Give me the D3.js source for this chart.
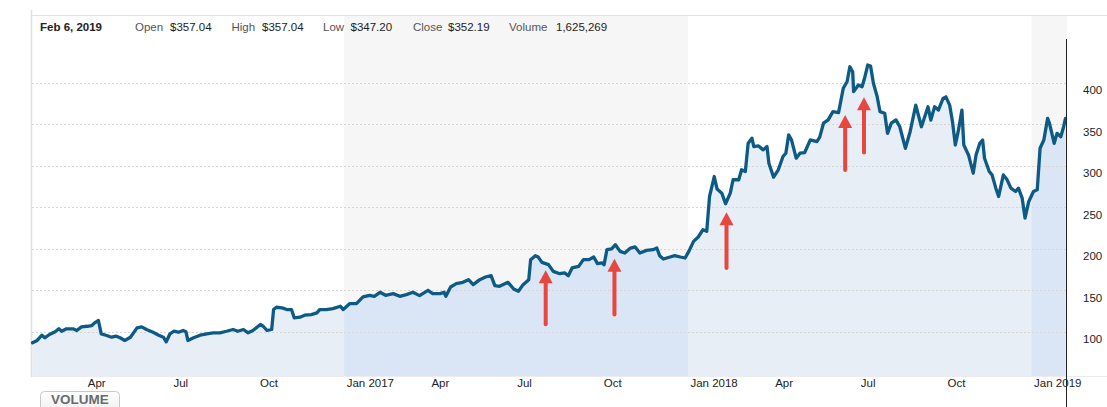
<!DOCTYPE html>
<html>
<head>
<meta charset="utf-8">
<script src="https://cdn.jsdelivr.net/npm/d3@7"></script>
<style>
  body { margin: 0; background: #fff; }
  text { font-family: Arial, "Liberation Sans", sans-serif; }
</style>
</head>
<body>
<div id="chart"></div>
<script>
// daily closes (approximate)
let dates = [
  "2016-02-05","2016-02-10","2016-02-15","2016-02-18","2016-02-23","2016-02-29","2016-03-04","2016-03-07","2016-03-12","2016-03-19",
  "2016-03-23","2016-03-28","2016-04-03","2016-04-08","2016-04-11","2016-04-15","2016-04-18","2016-04-23","2016-04-29","2016-05-04",
  "2016-05-08","2016-05-13","2016-05-19","2016-05-26","2016-05-31","2016-06-05","2016-06-12","2016-06-18","2016-06-23","2016-06-26",
  "2016-06-30","2016-07-04","2016-07-09","2016-07-14","2016-07-17","2016-07-19","2016-07-25","2016-08-01","2016-08-08","2016-08-15",
  "2016-08-22","2016-08-29","2016-09-05","2016-09-10","2016-09-16","2016-09-21","2016-09-26","2016-10-04","2016-10-07","2016-10-11",
  "2016-10-16","2016-10-18","2016-10-21","2016-10-27","2016-11-01","2016-11-06","2016-11-09","2016-11-15","2016-11-20","2016-11-27",
  "2016-12-03","2016-12-06","2016-12-13","2016-12-20","2016-12-28","2016-12-31",
  "2017-01-07","2017-01-14","2017-01-21","2017-01-28","2017-02-02","2017-02-08","2017-02-14","2017-02-22","2017-03-01","2017-03-08",
  "2017-03-15","2017-03-22","2017-03-31","2017-04-05","2017-04-13","2017-04-17","2017-04-19","2017-04-24","2017-04-30","2017-05-07",
  "2017-05-13","2017-05-18","2017-05-25","2017-05-31","2017-06-06","2017-06-10","2017-06-15","2017-06-24","2017-06-30","2017-07-05",
  "2017-07-10","2017-07-16","2017-07-18","2017-07-23","2017-07-26","2017-07-30","2017-08-06","2017-08-11","2017-08-18","2017-08-23",
  "2017-08-27","2017-08-31","2017-09-07","2017-09-12","2017-09-18","2017-09-23","2017-09-27","2017-10-02","2017-10-04","2017-10-07",
  "2017-10-12","2017-10-16","2017-10-21","2017-10-26","2017-11-01","2017-11-06","2017-11-11","2017-11-18","2017-11-25","2017-11-29",
  "2017-12-02","2017-12-06","2017-12-13","2017-12-18","2017-12-24","2017-12-29",
  "2018-01-02","2018-01-07","2018-01-12","2018-01-17","2018-01-21","2018-01-24","2018-01-29","2018-02-01","2018-02-06","2018-02-10",
  "2018-02-15","2018-02-18","2018-02-24","2018-02-27","2018-03-03","2018-03-06","2018-03-10","2018-03-12","2018-03-17","2018-03-22",
  "2018-03-26","2018-03-28","2018-04-02","2018-04-07","2018-04-12","2018-04-15","2018-04-18","2018-04-21","2018-04-26","2018-04-30",
  "2018-05-05","2018-05-11","2018-05-18","2018-05-21","2018-05-25","2018-05-30","2018-06-04","2018-06-10","2018-06-15","2018-06-19",
  "2018-06-22","2018-06-25","2018-06-26","2018-07-01","2018-07-05","2018-07-08","2018-07-11","2018-07-14","2018-07-17","2018-07-21",
  "2018-07-24","2018-07-29","2018-08-01","2018-08-05","2018-08-10","2018-08-14","2018-08-20","2018-08-25","2018-08-31","2018-09-06",
  "2018-09-13","2018-09-16","2018-09-20","2018-09-24","2018-09-29","2018-10-02","2018-10-06","2018-10-09","2018-10-12","2018-10-15",
  "2018-10-19","2018-10-21","2018-10-26","2018-10-31","2018-11-03","2018-11-07","2018-11-10","2018-11-12","2018-11-17","2018-11-20",
  "2018-11-24","2018-11-27","2018-12-02","2018-12-06","2018-12-10","2018-12-15","2018-12-18","2018-12-22","2018-12-25","2018-12-29",
  "2019-01-03","2019-01-07","2019-01-10","2019-01-14","2019-01-18","2019-01-20","2019-01-25","2019-01-28","2019-02-01","2019-02-04",
  "2019-02-06"
];
let prices = [
  86.8,89.6,95.9,92.8,96.8,100.0,103.6,100.7,103.6,103.6,
  101.6,106.0,106.7,107.6,110.8,113.6,97.6,95.9,93.5,94.7,
  92.8,89.6,93.5,104.8,106.0,102.8,99.5,95.9,93.5,88.0,
  97.6,100.7,99.5,101.6,100.0,89.6,92.8,95.9,97.6,98.8,
  98.8,100.7,102.8,100.7,102.8,98.8,101.6,108.8,106.7,101.6,
  102.8,126.8,129.6,128.8,126.8,126.8,116.8,117.6,120.0,120.8,
  122.8,126.8,126.8,128.0,130.8,126.8,
  134.0,134.0,142.0,144.0,142.8,147.6,144.0,146.0,142.8,144.8,
  147.6,143.6,150.0,146.0,146.0,147.6,142.8,154.0,158.0,159.6,
  162.8,156.8,162.8,166.0,167.6,155.6,154.8,159.6,151.6,148.8,
  156.8,162.8,186.9,191.7,190.1,183.6,180.9,172.8,170.0,170.9,
  167.6,176.9,178.8,186.9,186.9,190.1,182.1,182.9,180.9,198.9,
  199.8,204.9,196.9,194.9,200.9,202.2,194.9,198.1,198.9,200.9,
  191.7,187.7,190.1,191.7,190.1,188.9,
  196.9,208.9,214.2,223.0,221.0,263.0,287.0,271.9,267.0,254.2,
  267.0,283.1,283.1,295.1,293.0,327.2,333.2,323.1,323.9,319.1,
  323.1,303.1,286.3,295.1,311.1,315.1,337.1,331.1,309.1,315.1,
  315.9,331.1,329.1,334.4,351.2,355.2,365.1,364.0,393.3,401.2,
  419.2,413.2,389.2,397.2,395.2,407.2,421.3,420.1,399.3,383.2,
  365.1,363.2,339.0,351.2,355.2,347.0,321.0,341.0,373.0,347.0,
  371.0,355.0,371.0,367.0,381.0,383.0,373.0,353.0,325.0,341.0,
  367.0,325.0,313.0,291.0,313.0,327.0,331.0,309.0,293.0,289.0,
  273.0,263.0,289.0,283.0,273.0,269.0,273.0,261.0,237.0,257.0,
  269.0,271.0,321.0,331.0,357.0,351.0,327.0,339.0,335.0,347.0,
  357.0
];

let yTicks = [100, 150, 200, 250, 300, 350, 400];
let xTicks = ["2016-04-01","2016-07-01","2016-10-01","2017-01-01","2017-04-01","2017-07-01","2017-10-01",
              "2018-01-01","2018-04-01","2018-07-01","2018-10-01","2019-01-01"];
let shadedFrom = ["2017-01-01", "2019-01-01"];
let shadedTo = ["2018-01-01", null];

let headerDate = "Feb 6, 2019";
let headerLabels = ["Open", "High", "Low", "Close", "Volume"];
let headerValues = ["$357.04", "$357.04", "$347.20", "$352.19", "1,625,269"];

// red annotation arrows: date, value at the tip, value at the tail
let arrowDates = ["2017-08-03", "2017-10-15", "2018-02-11", "2018-06-17", "2018-07-07"];
let arrowTips = [174, 188, 244, 361, 382.5];
let arrowTails = [109, 121, 177, 295, 316];

let W = 1107, H = 407;
let plotLeft = 32, plotRight = 1066, plotTop = 16, plotBottom = 376;
let parse = d3.timeParse("%Y-%m-%d");

let data = dates.map((d, i) => ({date: parse(d), value: prices[i]}));

let x = d3.scaleTime()
  .domain([parse("2016-02-05"), parse("2019-02-06")])
  .range([32.5, 1065.5]);
let y = d3.scaleLinear()
  .domain([48, 400])
  .range([375, 82.7]);

let svg = d3.select("#chart").append("svg")
  .attr("width", W)
  .attr("height", H);

let defs = svg.append("defs");
let clip = defs.append("clipPath").attr("id", "bandClip");
let grad = defs.append("linearGradient").attr("id", "btnGrad")
  .attr("x1", 0).attr("y1", 0).attr("x2", 0).attr("y2", 1);
grad.append("stop").attr("offset", "0%").attr("stop-color", "#ffffff");
grad.append("stop").attr("offset", "100%").attr("stop-color", "#ececec");

// alternating year bands
shadedFrom.forEach((d, i) => {
  let x0 = x(parse(d));
  let x1 = shadedTo[i] ? x(parse(shadedTo[i])) : plotRight + 1;
  svg.append("rect")
    .attr("x", x0).attr("y", plotTop)
    .attr("width", x1 - x0).attr("height", plotBottom - plotTop)
    .attr("fill", "#f6f6f6");
  clip.append("rect")
    .attr("x", x0).attr("y", plotTop)
    .attr("width", x1 - x0).attr("height", plotBottom - plotTop);
});

let area = d3.area()
  .x(d => x(d.date))
  .y0(plotBottom)
  .y1(d => y(d.value));

svg.append("path")
  .attr("d", area(data))
  .attr("fill", "#e8eef6");
svg.append("path")
  .attr("d", area(data))
  .attr("fill", "#dae6f5")
  .attr("clip-path", "url(#bandClip)");

// frame lines
svg.append("line")
  .attr("x1", plotLeft).attr("x2", W).attr("y1", plotTop - 0.5).attr("y2", plotTop - 0.5)
  .attr("stroke", "#e2e2e2");
svg.append("line")
  .attr("x1", plotLeft - 0.5).attr("x2", plotLeft - 0.5).attr("y1", 10).attr("y2", plotBottom + 1)
  .attr("stroke", "#e0e0e0").attr("stroke-width", 1.5);
svg.append("line")
  .attr("x1", plotLeft).attr("x2", W).attr("y1", plotBottom + 0.5).attr("y2", plotBottom + 0.5)
  .attr("stroke", "#ececec");

// dotted gridlines
svg.append("g").selectAll("line")
  .data(yTicks)
  .join("line")
  .attr("x1", plotLeft).attr("x2", plotRight)
  .attr("y1", d => Math.round(y(d)) + 0.5)
  .attr("y2", d => Math.round(y(d)) + 0.5)
  .attr("stroke", "#d6d6d6")
  .attr("stroke-dasharray", "2,2");

let line = d3.line()
  .x(d => x(d.date))
  .y(d => y(d.value));

svg.append("path")
  .attr("d", line(data))
  .attr("fill", "none")
  .attr("stroke", "#0d5b85")
  .attr("stroke-width", 3.3)
  .attr("stroke-linejoin", "round")
  .attr("stroke-linecap", "round");

// arrows
let arrowColor = "#e8473f";
arrowDates.forEach((d, i) => {
  let cx = x(parse(d));
  let tipY = y(arrowTips[i]);
  let tailY = y(arrowTails[i]);
  svg.append("line")
    .attr("x1", cx).attr("x2", cx)
    .attr("y1", tailY).attr("y2", tipY + 10)
    .attr("stroke", arrowColor)
    .attr("stroke-width", 4)
    .attr("stroke-linecap", "round");
  svg.append("path")
    .attr("d", "M" + cx + "," + tipY + "L" + (cx - 7) + "," + (tipY + 13) + "L" + (cx + 7) + "," + (tipY + 13) + "Z")
    .attr("fill", arrowColor);
});

// x axis labels
let xAxis = svg.append("g")
  .attr("transform", "translate(0," + plotBottom + ")")
  .call(d3.axisBottom(x)
    .tickValues(xTicks.map(parse))
    .tickSize(0)
    .tickPadding(3)
    .tickFormat(d => d.getMonth() == 0 ? d3.timeFormat("Jan %Y")(d) : d3.timeFormat("%b")(d)));
xAxis.select(".domain").remove();
xAxis.selectAll("text")
  .attr("text-anchor", "start")
  .attr("dx", 2)
  .attr("fill", "#222")
  .style("font-size", "11.5px")
  .style("font-family", "Arial, 'Liberation Sans', sans-serif");

// y axis labels on the right
let yAxis = svg.append("g")
  .attr("transform", "translate(" + plotRight + ",0)")
  .call(d3.axisRight(y)
    .tickValues(yTicks)
    .tickSize(0)
    .tickPadding(17));
yAxis.select(".domain").remove();
yAxis.selectAll("text")
  .attr("dy", "0.95em")
  .attr("fill", "#222")
  .style("font-size", "11.5px")
  .style("font-family", "Arial, 'Liberation Sans', sans-serif");

// crosshair at the last day
svg.append("line")
  .attr("x1", plotRight + 0.5).attr("x2", plotRight + 0.5)
  .attr("y1", 39).attr("y2", H)
  .attr("stroke", "#222");

// header row
let labelX = [135, 231.5, 323, 413, 509];
let valueX = [170, 262, 350.5, 448, 556];
let header = svg.append("g").style("font-size", "11.5px");
header.append("text")
  .attr("x", 40).attr("y", 31)
  .attr("fill", "#222")
  .style("font-weight", "bold")
  .text(headerDate);
headerLabels.forEach((t, i) => {
  header.append("text").attr("x", labelX[i]).attr("y", 31).attr("fill", "#555").text(t);
  header.append("text").attr("x", valueX[i]).attr("y", 31).attr("fill", "#222").text(headerValues[i]);
});

// volume button
svg.append("rect")
  .attr("x", 40.5).attr("y", 391.5)
  .attr("width", 79).attr("height", 24)
  .attr("rx", 4)
  .attr("fill", "url(#btnGrad)")
  .attr("stroke", "#c8c8c8");
svg.append("text")
  .attr("x", 80).attr("y", 404)
  .attr("text-anchor", "middle")
  .attr("fill", "#6b6b6b")
  .style("font-size", "13.5px")
  .style("font-weight", "bold")
  .text("VOLUME");
</script>
</body>
</html>
